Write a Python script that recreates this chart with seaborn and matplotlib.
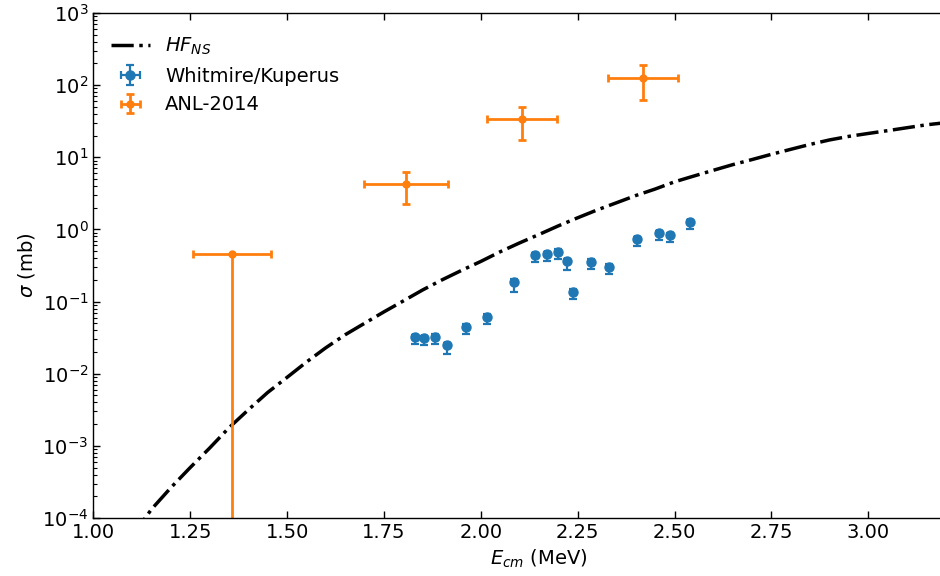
import numpy as np
import pandas as pd
import matplotlib
matplotlib.use("Agg")
import matplotlib.pyplot as plt
from matplotlib.ticker import FixedLocator, NullFormatter, LogLocator
import seaborn as sns

# HF_NS theory curve
hf_e = [1.10, 1.15, 1.20, 1.25, 1.30, 1.35, 1.40, 1.45, 1.50, 1.55, 1.60, 1.65,
        1.70, 1.75, 1.80, 1.85, 1.90, 1.95, 2.00, 2.05, 2.10, 2.15, 2.20, 2.25,
        2.30, 2.35, 2.40, 2.45, 2.50, 2.55, 2.60, 2.65, 2.70, 2.75, 2.80, 2.85,
        2.90, 2.95, 3.00, 3.05, 3.10, 3.15, 3.20, 3.25]
hf_sigma = [5.6e-5, 1.32e-4, 2.63e-4, 5.0e-4, 9.3e-4, 1.78e-3, 3.16e-3, 5.5e-3,
            8.9e-3, 1.45e-2, 2.29e-2, 3.47e-2, 5.0e-2, 7.2e-2, 0.102, 0.145,
            0.20, 0.27, 0.36, 0.49, 0.65, 0.85, 1.12, 1.45, 1.86, 2.34, 2.95,
            3.63, 4.57, 5.5, 6.6, 7.9, 9.3, 11.0, 12.9, 15.1, 17.4, 19.5, 21.4,
            23.4, 25.7, 28.2, 30.2, 32.4]

# Whitmire/Kuperus data
wk_e = [1.829, 1.853, 1.881, 1.912, 1.963, 2.016, 2.085, 2.140, 2.170, 2.200,
        2.222, 2.239, 2.284, 2.330, 2.403, 2.460, 2.489, 2.539]
wk_sigma = [0.0319, 0.031, 0.0326, 0.025, 0.0449, 0.0617, 0.188, 0.442, 0.452,
            0.491, 0.365, 0.137, 0.357, 0.304, 0.730, 0.883, 0.837, 1.27]
wk_err_lo_frac = [0.2, 0.2, 0.2, 0.25, 0.2, 0.2, 0.27, 0.2, 0.2, 0.2, 0.25, 0.2,
                  0.2, 0.2, 0.2, 0.2, 0.2, 0.2]
wk_err_hi_frac = [0.08] * 18
wk_xerr = [0.004] * 18

# ANL-2014 data
anl_e = [1.358, 1.807, 2.107, 2.419]
anl_sigma = [0.456, 4.27, 34.0, 125.6]
anl_yerr_lo = [0.456, 2.05, 16.5, 63.0]
anl_yerr_hi = [0.0, 2.05, 16.5, 63.0]
anl_xerr = [0.10, 0.108, 0.09, 0.09]

# axis ticks
x_ticks = [1.00, 1.25, 1.50, 1.75, 2.00, 2.25, 2.50, 2.75, 3.00]
x_ticklabels = ["1.00", "1.25", "1.50", "1.75", "2.00", "2.25", "2.50", "2.75", "3.00"]
y_decades = [-4, -3, -2, -1, 0, 1, 2, 3]

plt.rcParams.update({
    'font.family': ['DejaVu Sans'],
    'mathtext.fontset': 'dejavusans',
    'xtick.direction': 'in', 'ytick.direction': 'in',
    'xtick.top': True, 'ytick.right': True,
    'xtick.bottom': True, 'ytick.left': True,
    'xtick.major.size': 5, 'ytick.major.size': 5,
    'xtick.minor.size': 2.8, 'ytick.minor.size': 2.8,
    'xtick.major.width': 1, 'ytick.major.width': 1,
    'ytick.minor.width': 0.8, 'xtick.minor.width': 0.8,
    'xtick.labelsize': 14, 'ytick.labelsize': 14,
    'axes.linewidth': 1,
})

fig = plt.figure(figsize=(9.4, 5.76), dpi=100)
ax = fig.add_axes([0.0993, 0.1007, 0.948, 0.8767])

hf_df = pd.DataFrame({"E": hf_e, "sigma": hf_sigma})
sns.lineplot(data=hf_df, x="E", y="sigma", ax=ax, color="black", lw=2.5,
             linestyle=(0, (6.4, 1.6, 1.0, 1.6)), label=r"$HF_{NS}$")

wk_sig = np.array(wk_sigma)
wk_err = [wk_sig * np.array(wk_err_lo_frac), wk_sig * np.array(wk_err_hi_frac)]
ax.errorbar(wk_e, wk_sigma, yerr=wk_err, xerr=wk_xerr, fmt="o", color="#1f77b4",
            ms=6.5, elinewidth=1.6, capsize=3, capthick=1.6, label="Whitmire/Kuperus")

ax.errorbar(anl_e, anl_sigma, yerr=[anl_yerr_lo, anl_yerr_hi], xerr=anl_xerr,
            fmt="o", color="#ff7f0e", ms=5, elinewidth=2, capsize=3, capthick=2,
            label="ANL-2014")

ax.set_yscale("log")
ax.set_xlim(1.0, 3.3)
ax.set_ylim(10.0 ** y_decades[0], 10.0 ** y_decades[-1])
ax.yaxis.set_major_locator(LogLocator(base=10, numticks=20))
minor_locs = [m * 10.0 ** d for d in y_decades[:-1] for m in range(2, 10)]
ax.yaxis.set_minor_locator(FixedLocator(minor_locs))
ax.yaxis.set_minor_formatter(NullFormatter())
ax.set_xticks(x_ticks)
ax.set_xticklabels(x_ticklabels)

ax.set_xlabel(r"$E_{cm}$ (MeV)", fontsize=14)
ax.set_ylabel(r"$\sigma$ (mb)", fontsize=14)

ax.legend(loc="upper left", frameon=False, fontsize=14, bbox_to_anchor=(0.0, 0.99))

fig.savefig("out.png", dpi=100)
